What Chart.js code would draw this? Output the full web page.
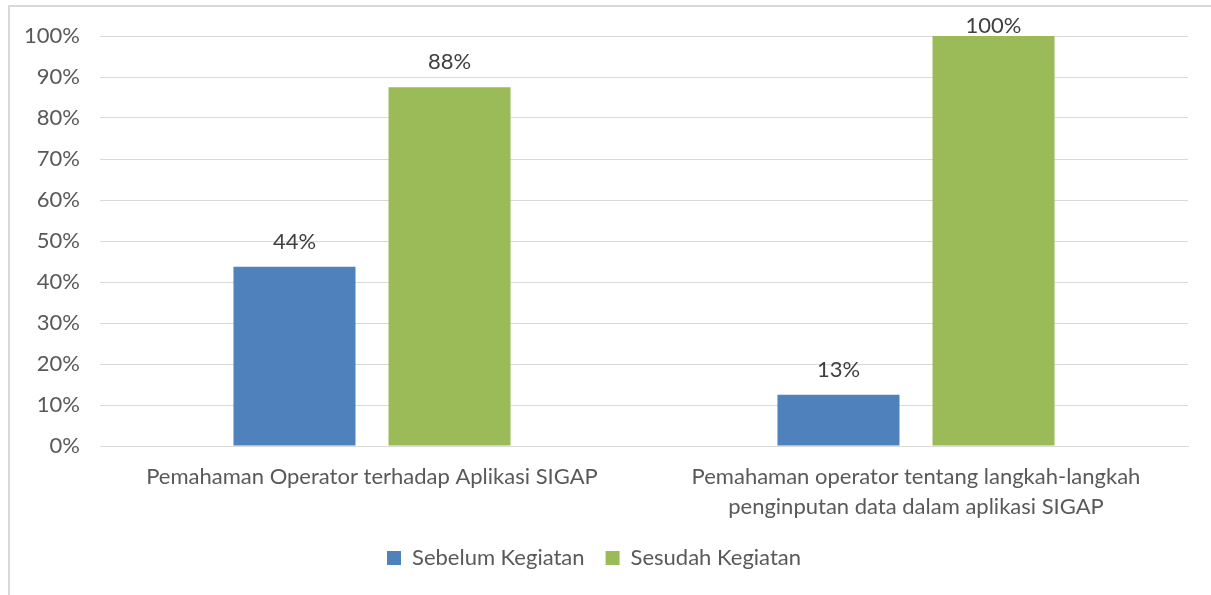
<!DOCTYPE html>
<html>
<head>
<meta charset="utf-8">
<script src="https://cdn.jsdelivr.net/npm/chart.js@4"></script>
<style>
  body { margin: 0; background: #fff; }
  #frame {
    position: absolute; left: 8px; top: 5px; width: 1300px; height: 700px;
    border-left: 2px solid #d9d9d9; border-top: 2px solid #d9d9d9;
  }
  #wrap { position: absolute; left: 0; top: 0; width: 1211px; height: 595px; }
</style>
</head>
<body>
<div id="frame"></div>
<div id="wrap"><canvas id="chart" width="1211" height="595"></canvas></div>
<script>
// ---- data ----
const categories = [
  "Pemahaman Operator terhadap Aplikasi SIGAP",
  ["Pemahaman operator tentang langkah-langkah", "penginputan data dalam aplikasi SIGAP"]
];
const sebelum = [0.4375, 0.125];   // Sebelum Kegiatan
const sesudah = [0.875, 1.0];      // Sesudah Kegiatan
const yTicks = [0, 0.1, 0.2, 0.3, 0.4, 0.5, 0.6, 0.7, 0.8, 0.9, 1.0];

const FONT = "Lato";
const TEXT = "#595959";

// labels above bars
const barLabels = {
  id: "barLabels",
  afterDatasetsDraw(chart) {
    const ctx = chart.ctx;
    ctx.save();
    ctx.font = "22px " + FONT;
    ctx.fillStyle = "#404040";
    ctx.textAlign = "center";
    ctx.textBaseline = "alphabetic";
    chart.data.datasets.forEach((ds, i) => {
      chart.getDatasetMeta(i).data.forEach((bar, j) => {
        const txt = Math.round(ds.data[j] * 100) + "%";
        const y = Math.max(bar.y - 18, 33);
        ctx.fillText(txt, bar.x, y);
      });
    });
    ctx.restore();
  }
};

new Chart(document.getElementById("chart"), {
  type: "bar",
  data: {
    labels: categories,
    datasets: [
      { label: "Sebelum Kegiatan", data: sebelum, backgroundColor: "#4f81bd",
        categoryPercentage: 0.57, barPercentage: 0.787 },
      { label: "Sesudah Kegiatan", data: sesudah, backgroundColor: "#9bbb59",
        categoryPercentage: 0.57, barPercentage: 0.787 }
    ]
  },
  options: {
    responsive: false,
    animation: false,
    layout: { padding: { top: 36, right: 23, left: 0, bottom: 16 } },
    scales: {
      y: {
        min: 0, max: 1,
        afterBuildTicks: (s) => { s.ticks = yTicks.map(v => ({ value: v })); },
        afterFit: (s) => { s.width = 100; },
        ticks: {
          padding: 20,
          color: TEXT,
          font: { family: FONT, size: 22 },
          callback: (v) => Math.round(v * 100) + "%"
        },
        grid: { color: "#d9d9d9", drawTicks: false, lineWidth: 1 },
        border: { display: false }
      },
      x: {
        afterFit: (s) => { s.height = 80; },
        ticks: {
          padding: 8,
          color: TEXT,
          maxRotation: 0,
          font: { family: FONT, size: 22, lineHeight: 1.36 }
        },
        grid: { display: false },
        border: { color: "#d9d9d9" }
      }
    },
    plugins: {
      tooltip: { enabled: false },
      legend: {
        position: "bottom",
        labels: {
          color: TEXT,
          font: { family: FONT, size: 22 },
          boxWidth: 14,
          boxHeight: 14,
          padding: 21
        }
      }
    }
  },
  plugins: [barLabels]
});
</script>
</body>
</html>
